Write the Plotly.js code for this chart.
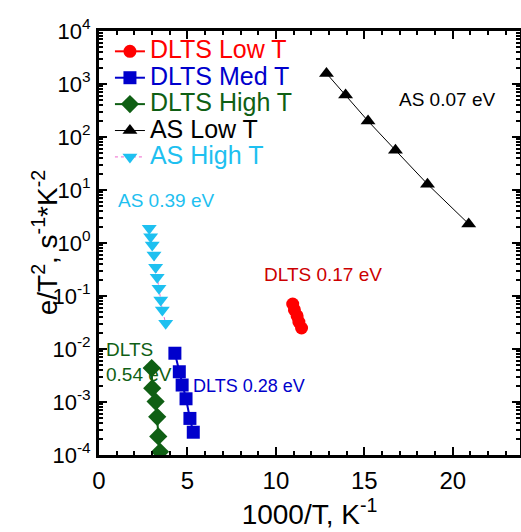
<!DOCTYPE html>
<html>
<head>
<meta charset="utf-8">
<script src="https://cdn.plot.ly/plotly-3.0.1.min.js"></script>
<style>html,body{margin:0;padding:0;background:#fff;}#chart{width:521px;height:532px;}</style>
</head>
<body>
<div id="chart"></div>
<script>
// ---- data ----
const dltsLowX  = [10.95, 11.05, 11.2, 11.3, 11.45];
const dltsLowY  = [0.0706, 0.0545, 0.042, 0.0323, 0.0249];

const dltsMedX  = [4.29, 4.54, 4.70, 4.92, 5.14, 5.33];
const dltsMedY  = [8.32e-3, 3.72e-3, 2.09e-3, 1.15e-3, 4.9e-4, 2.69e-4];

const dltsHighX = [2.98, 3.01, 3.20, 3.29, 3.35, 3.45];
const dltsHighY = [4.37e-3, 1.82e-3, 1.02e-3, 5.25e-4, 2.24e-4, 1.15e-4];

const asLowX    = [12.86, 13.94, 15.21, 16.76, 18.57, 20.9];
const asLowY    = [1585, 617, 200, 56.2, 12.9, 2.29];

const asHighX   = [2.84, 2.92, 3.01, 3.11, 3.20, 3.29, 3.39, 3.49, 3.58, 3.77];
const asHighY   = [1.89, 1.315, 0.916, 0.594, 0.348, 0.225, 0.140, 0.0841, 0.0545, 0.0305];

const yTickVals = [1e-4, 1e-3, 1e-2, 1e-1, 1, 10, 100, 1000, 10000];
const yTickText = ['10<sup>-4</sup>','10<sup>-3</sup>','10<sup>-2</sup>','10<sup>-1</sup>','10<sup>0</sup>','10<sup>1</sup>','10<sup>2</sup>','10<sup>3</sup>','10<sup>4</sup>'];

const seriesNames = ['DLTS Low T', 'DLTS Med T', 'DLTS High T', 'AS Low T', 'AS High T'];

const RED = '#ff0000', BLUE = '#0000cc', GREEN = '#0f5f14', BLACK = '#000000', CYAN = '#1ec0f0';
const FONT = 'Arial, "Liberation Sans", sans-serif';

function lbl(name, color) { return '<span style="color:' + color + ';font-size:25px">' + name + '</span>'; }

const traces = [
  {x: dltsLowX, y: dltsLowY, name: lbl(seriesNames[0], RED), mode: 'lines+markers',
   line: {color: RED, width: 2}, marker: {symbol: 'circle', size: 13, color: RED}},
  {x: dltsMedX, y: dltsMedY, name: lbl(seriesNames[1], BLUE), mode: 'lines+markers',
   line: {color: BLUE, width: 2}, marker: {symbol: 'square', size: 13, color: BLUE}},
  {x: dltsHighX, y: dltsHighY, name: lbl(seriesNames[2], GREEN), mode: 'lines+markers',
   line: {color: GREEN, width: 2}, marker: {symbol: 'diamond', size: 14, color: GREEN}},
  {x: asLowX, y: asLowY, name: lbl(seriesNames[3], BLACK), mode: 'lines+markers',
   line: {color: BLACK, width: 1}, marker: {symbol: 'triangle-up', size: 13, color: BLACK}},
  {x: asHighX, y: asHighY, name: lbl(seriesNames[4], CYAN), mode: 'lines+markers',
   line: {color: '#ee66cc', width: 1, dash: 'dot'}, marker: {symbol: 'triangle-down', size: 13, color: CYAN}}
];

const axisCommon = {
  showline: true, linecolor: '#000', linewidth: 3, mirror: 'allticks',
  ticks: 'inside', ticklen: 8, tickwidth: 2, tickcolor: '#000',
  showgrid: false, zeroline: false,
  tickfont: {family: FONT, size: 24, color: '#000'}
};

const layout = {
  width: 521, height: 532,
  margin: {l: 99, r: 1, t: 31, b: 77},
  paper_bgcolor: '#fff', plot_bgcolor: '#fff',
  showlegend: true,
  legend: {x: 0.026, y: 0.995, xanchor: 'left', yanchor: 'top', bgcolor: 'rgba(0,0,0,0)',
           font: {family: FONT, size: 18, color: '#000'}, tracegroupgap: 0, itemwidth: 30},
  xaxis: Object.assign({}, axisCommon, {
    range: [0, 23.8], tickmode: 'linear', tick0: 0, dtick: 5, ticklabelstandoff: 2,
    minor: {ticks: 'inside', ticklen: 4, tickwidth: 2, tickcolor: '#000', dtick: 1},
    title: {text: '1000/T, K<sup>-1</sup>', font: {family: FONT, size: 28, color: '#000'}, standoff: 6}
  }),
  yaxis: Object.assign({}, axisCommon, {
    type: 'log', range: [-4, 4], tickmode: 'array', tickvals: yTickVals, ticktext: yTickText,
    tickfont: {family: FONT, size: 22, color: '#000'}, ticklabelstandoff: 1,
    minor: {ticks: 'inside', ticklen: 4, tickwidth: 2, tickcolor: '#000', dtick: 'D1'}
  }),
  annotations: [
    {xref: 'paper', yref: 'paper', x: -0.175, y: 0.5, textangle: -90, showarrow: false,
     text: 'e/T<sup>2</sup>, s<sup>-1</sup>*K<sup>-2</sup>', font: {family: FONT, size: 28, color: '#000'}},
    {x: 19.7, y: 2.70, text: 'AS 0.07 eV', showarrow: false, font: {family: FONT, size: 19, color: BLACK}},
    {x: 12.65, y: -0.585, text: 'DLTS 0.17 eV', showarrow: false, font: {family: FONT, size: 19, color: '#cc0000'}},
    {x: 3.79, y: 0.81, text: 'AS 0.39 eV', showarrow: false, font: {family: FONT, size: 19, color: CYAN}},
    {x: 0.3, y: -2.245, xanchor: 'left', align: 'left', text: 'DLTS<br>0.54 eV', showarrow: false, font: {family: FONT, size: 19, color: GREEN}},
    {x: 8.5, y: -2.70, text: 'DLTS 0.28 eV', showarrow: false, font: {family: FONT, size: 18, color: BLUE}}
  ]
};

Plotly.newPlot('chart', traces, layout, {displayModeBar: false, staticPlot: true});
</script>
</body>
</html>
